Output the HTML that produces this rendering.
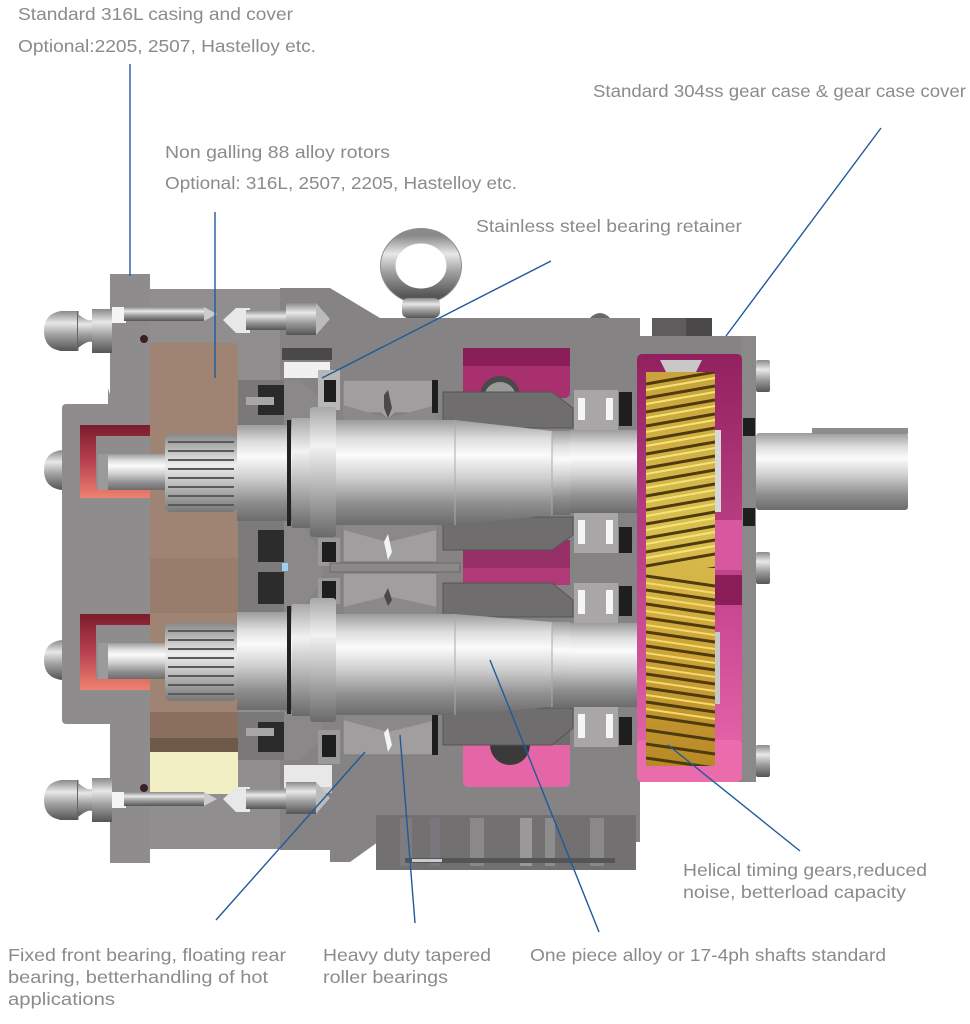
<!DOCTYPE html>
<html>
<head>
<meta charset="utf-8">
<style>
html,body{margin:0;padding:0;background:#fff;}
svg{display:block;}
text{font-family:"Liberation Sans",sans-serif;fill:#8c8a8a;}
</style>
</head>
<body>
<svg width="970" height="1024" viewBox="0 0 970 1024" xmlns="http://www.w3.org/2000/svg">
<defs>
  <linearGradient id="sh" x1="0" y1="0" x2="0" y2="1">
    <stop offset="0" stop-color="#9c9c9c"/>
    <stop offset="0.18" stop-color="#dedede"/>
    <stop offset="0.33" stop-color="#fbfbfb"/>
    <stop offset="0.55" stop-color="#cfcfcf"/>
    <stop offset="0.8" stop-color="#8e8e8e"/>
    <stop offset="1" stop-color="#6c6c6c"/>
  </linearGradient>
  <linearGradient id="sh2" x1="0" y1="0" x2="0" y2="1">
    <stop offset="0" stop-color="#a8a8a8"/>
    <stop offset="0.3" stop-color="#f2f2f2"/>
    <stop offset="0.6" stop-color="#b8b8b8"/>
    <stop offset="1" stop-color="#6a6a6a"/>
  </linearGradient>
  <linearGradient id="pk" x1="0" y1="0" x2="0" y2="1">
    <stop offset="0" stop-color="#92205f"/>
    <stop offset="0.35" stop-color="#b23a7d"/>
    <stop offset="0.65" stop-color="#cc4c95"/>
    <stop offset="1" stop-color="#e86aab"/>
  </linearGradient>
  <linearGradient id="gd" x1="0" y1="0" x2="0" y2="1">
    <stop offset="0" stop-color="#c9a23a"/>
    <stop offset="0.4" stop-color="#d8c050"/>
    <stop offset="0.6" stop-color="#d4ac40"/>
    <stop offset="1" stop-color="#b88a26"/>
  </linearGradient>
  <linearGradient id="red1" x1="0" y1="0" x2="0" y2="1">
    <stop offset="0" stop-color="#7a1c2c"/>
    <stop offset="0.5" stop-color="#b84050"/>
    <stop offset="1" stop-color="#ee8270"/>
  </linearGradient>
  <linearGradient id="nut" x1="0" y1="0" x2="0" y2="1">
    <stop offset="0" stop-color="#8a8a8a"/>
    <stop offset="0.3" stop-color="#e8e8e8"/>
    <stop offset="0.6" stop-color="#a0a0a0"/>
    <stop offset="1" stop-color="#555"/>
  </linearGradient>
  <linearGradient id="spl" x1="0" y1="0" x2="0" y2="1">
    <stop offset="0" stop-color="#888"/>
    <stop offset="0.4" stop-color="#eee"/>
    <stop offset="1" stop-color="#777"/>
  </linearGradient>
  <clipPath id="g1"><rect x="646" y="372" width="69" height="196"/></clipPath>
  <clipPath id="g2"><rect x="646" y="568" width="69" height="198"/></clipPath>
</defs>

<!-- ============ CASING BASE ============ -->
<rect x="62" y="404" width="52" height="320" rx="4" fill="#8e8c8c"/>
<path d="M108,388 Q112,404 120,404 L108,404 Z" fill="#8e8c8c"/>
<rect x="110" y="274" width="40" height="589" fill="#8e8c8c"/>
<rect x="150" y="289" width="132" height="560" fill="#908e8e"/>
<path d="M280,288 L330,288 L380,318 L640,318 L640,336 L742,336 L742,782 L640,782 L640,842 L378,842 L350,862 L330,862 L330,850 L280,850 Z" fill="#858383"/>
<!-- foot -->
<rect x="376" y="815" width="260" height="55" fill="#727070"/>
<rect x="400" y="818" width="12" height="48" fill="#7e7c80"/>
<rect x="430" y="818" width="10" height="48" fill="#7a7680"/>
<rect x="470" y="818" width="14" height="48" fill="#8a8888"/>
<rect x="520" y="818" width="12" height="48" fill="#9a9898"/>
<rect x="545" y="818" width="10" height="48" fill="#8e8c8c"/>
<rect x="590" y="818" width="14" height="48" fill="#8a8888"/>
<rect x="405" y="858" width="210" height="5" fill="#555"/>
<rect x="412" y="859" width="30" height="3" fill="#ccc"/>

<!-- white cavity near flange -->
<rect x="282" y="348" width="50" height="12" fill="#4a4848"/>
<rect x="284" y="362" width="46" height="16" fill="#f0f0f0"/>
<rect x="284" y="765" width="48" height="22" fill="#e8e8e8"/>
<rect x="284" y="787" width="48" height="6" fill="#c8c8c8"/>

<!-- ============ ROTOR (brown) ============ -->
<rect x="150" y="343" width="88" height="395" fill="#9f8373"/>
<rect x="150" y="558" width="88" height="55" fill="#987c6c"/>
<rect x="150" y="712" width="88" height="26" fill="#8a6e5e"/>
<rect x="150" y="738" width="88" height="14" fill="#6e584a"/>
<rect x="150" y="752" width="88" height="42" fill="#f1efc3"/>
<circle cx="144" cy="339" r="4" fill="#3a2020"/>
<circle cx="144" cy="788" r="4" fill="#3a2020"/>

<!-- ============ RED SEALS ============ -->
<path d="M80,425 L150,425 L150,436 L96,436 L96,487 L150,487 L150,498 L80,498 Z" fill="url(#red1)"/>
<path d="M80,614 L150,614 L150,625 L96,625 L96,678 L150,678 L150,690 L80,690 Z" fill="url(#red1)"/>
<rect x="96" y="436" width="54" height="51" fill="#8e8c8c"/>
<rect x="96" y="625" width="54" height="53" fill="#8e8c8c"/>
<rect x="98" y="454" width="70" height="36" fill="url(#sh)"/>
<rect x="98" y="454" width="10" height="36" fill="#9a9a9a"/>
<rect x="98" y="643" width="70" height="36" fill="url(#sh)"/>
<rect x="98" y="643" width="10" height="36" fill="#9a9a9a"/>
<g>
  <rect x="165" y="434" width="72" height="78" fill="url(#spl)" rx="6"/>
  <g stroke="#5a5a5a" stroke-width="2">
    <line x1="168" y1="442" x2="234" y2="442"/><line x1="168" y1="451" x2="234" y2="451"/>
    <line x1="168" y1="460" x2="234" y2="460"/><line x1="168" y1="469" x2="234" y2="469"/>
    <line x1="168" y1="478" x2="234" y2="478"/><line x1="168" y1="487" x2="234" y2="487"/>
    <line x1="168" y1="496" x2="234" y2="496"/><line x1="168" y1="505" x2="234" y2="505"/>
  </g>
  <rect x="165" y="623" width="72" height="78" fill="url(#spl)" rx="6"/>
  <g stroke="#5a5a5a" stroke-width="2">
    <line x1="168" y1="631" x2="234" y2="631"/><line x1="168" y1="640" x2="234" y2="640"/>
    <line x1="168" y1="649" x2="234" y2="649"/><line x1="168" y1="658" x2="234" y2="658"/>
    <line x1="168" y1="667" x2="234" y2="667"/><line x1="168" y1="676" x2="234" y2="676"/>
    <line x1="168" y1="685" x2="234" y2="685"/><line x1="168" y1="694" x2="234" y2="694"/>
  </g>
</g>

<!-- ============ SEAL / RETAINER AREA ============ -->
<rect x="238" y="380" width="50" height="46" fill="#7a7878"/>
<rect x="258" y="385" width="30" height="30" fill="#2a2a2a"/>
<rect x="246" y="397" width="28" height="8" fill="#a8a6a6"/>
<path d="M284,380 L300,380 L322,400 L322,425 L284,425 Z" fill="#8a8888"/>
<rect x="238" y="520" width="52" height="92" fill="#7c7a7a"/>
<rect x="258" y="530" width="32" height="32" fill="#2c2c2c"/>
<rect x="258" y="572" width="32" height="32" fill="#2c2c2c"/>
<path d="M284,520 L300,520 L322,555 L322,580 L300,612 L284,612 Z" fill="#8a8888"/>
<rect x="282" y="563" width="6" height="8" fill="#9cd2f0"/>
<rect x="238" y="712" width="50" height="48" fill="#7a7878"/>
<rect x="258" y="722" width="30" height="30" fill="#2a2a2a"/>
<rect x="246" y="728" width="28" height="8" fill="#a8a6a6"/>
<path d="M284,712 L322,712 L322,738 L300,760 L284,760 Z" fill="#8a8888"/>
<rect x="318" y="370" width="22" height="40" fill="#b8b6b6"/>
<rect x="324" y="380" width="12" height="22" fill="#1e1e1e"/>
<rect x="318" y="538" width="22" height="28" fill="#9a9898"/>
<rect x="322" y="542" width="14" height="20" fill="#1e1e1e"/>
<rect x="318" y="578" width="22" height="26" fill="#9a9898"/>
<rect x="322" y="581" width="14" height="20" fill="#1e1e1e"/>
<rect x="318" y="730" width="22" height="34" fill="#9a9898"/>
<rect x="322" y="735" width="14" height="22" fill="#1e1e1e"/>

<!-- ============ PINK HOUSING CAVITIES ============ -->
<rect x="463" y="348" width="107" height="50" rx="5" fill="#a8306e"/>
<rect x="463" y="348" width="107" height="18" fill="#8a1e58"/>
<circle cx="500" cy="396" r="20" fill="#4a4a4a"/>
<circle cx="500" cy="398" r="16" fill="#9a9a9a"/>
<rect x="463" y="540" width="107" height="45" fill="#b03a78"/>
<rect x="463" y="540" width="107" height="28" fill="#983068"/>
<rect x="463" y="740" width="107" height="47" rx="5" fill="#e566a6"/>
<circle cx="510" cy="745" r="20" fill="#3a3a3a"/>
<rect x="470" y="720" width="100" height="25" fill="#6e6c6c"/>

<!-- ============ TAPERED BEARINGS ============ -->
<g fill="#a09e9e" stroke="#7a7878" stroke-width="1">
  <path d="M343,380 L437,380 L437,413 L395,413 L388,420 L381,413 L343,413 Z"/>
  <path d="M343,525 L437,525 L437,562 L343,562 Z"/>
  <path d="M343,573 L437,573 L437,612 L343,612 Z"/>
  <path d="M343,715 L437,715 L437,755 L343,755 Z"/>
</g>
<g fill="#8a8888">
  <path d="M343,405 L388,418 L437,405 L437,420 L343,420 Z"/>
  <path d="M343,530 L388,542 L437,530 L437,525 L343,525 Z"/>
  <path d="M343,607 L388,596 L437,607 L437,614 L343,614 Z"/>
  <path d="M343,720 L388,732 L437,720 L437,715 L343,715 Z"/>
</g>
<g fill="#f4f4f4">
  <path d="M384,395 L388,390 L392,408 L388,418 L384,408 Z" fill="#4a4848"/>
  <path d="M384,542 L388,534 L392,552 L388,560 Z"/>
  <path d="M384,596 L388,588 L392,600 L388,606 Z" fill="#4a4848"/>
  <path d="M384,733 L388,728 L392,745 L388,752 Z"/>
</g>
<rect x="330" y="563" width="130" height="9" fill="#8a8888" stroke="#6a6868" stroke-width="1"/>
<rect x="432" y="380" width="6" height="33" fill="#1e1e1e"/>
<rect x="432" y="715" width="6" height="40" fill="#1e1e1e"/>

<!-- ============ SLEEVES ============ -->
<g fill="#6f6d6d" stroke="#555" stroke-width="1">
  <path d="M443,392 L552,392 L573,408 L573,428 L443,428 Z"/>
  <path d="M443,517 L573,517 L573,535 L552,550 L443,550 Z"/>
  <path d="M443,583 L552,583 L573,600 L573,617 L443,617 Z"/>
  <path d="M443,708 L573,708 L573,728 L552,745 L443,745 Z"/>
</g>

<!-- ============ SHAFTS ============ -->
<rect x="237" y="425" width="55" height="96" fill="url(#sh)"/>
<rect x="287" y="420" width="4" height="106" fill="#222"/>
<rect x="292" y="418" width="18" height="110" fill="url(#sh2)"/>
<rect x="310" y="407" width="26" height="130" fill="url(#sh2)" rx="3"/>
<rect x="336" y="420" width="120" height="105" fill="url(#sh)"/>
<path d="M455,420 L552,431 L552,515 L455,525 Z" fill="url(#sh)"/>
<rect x="552" y="431" width="18" height="84" fill="url(#sh)"/>
<rect x="570" y="430" width="78" height="83" fill="url(#sh)"/>
<line x1="455" y1="420" x2="455" y2="525" stroke="#aaa"/>
<line x1="552" y1="431" x2="552" y2="515" stroke="#aaa"/>
<rect x="237" y="612" width="55" height="98" fill="url(#sh)"/>
<rect x="287" y="606" width="4" height="108" fill="#222"/>
<rect x="292" y="604" width="18" height="112" fill="url(#sh2)"/>
<rect x="310" y="598" width="26" height="124" fill="url(#sh2)" rx="3"/>
<rect x="336" y="614" width="120" height="101" fill="url(#sh)"/>
<path d="M455,614 L552,622 L552,707 L455,715 Z" fill="url(#sh)"/>
<rect x="552" y="622" width="18" height="85" fill="url(#sh)"/>
<rect x="570" y="623" width="78" height="84" fill="url(#sh)"/>
<line x1="455" y1="614" x2="455" y2="715" stroke="#aaa"/>
<line x1="552" y1="622" x2="552" y2="707" stroke="#aaa"/>

<!-- ============ BALL BEARINGS ============ -->
<g>
  <rect x="574" y="390" width="44" height="40" fill="#a8a6a6"/>
  <rect x="574" y="513" width="44" height="40" fill="#a8a6a6"/>
  <rect x="574" y="583" width="44" height="40" fill="#a8a6a6"/>
  <rect x="574" y="707" width="44" height="40" fill="#a8a6a6"/>
  <g fill="#f6f6f6">
    <rect x="578" y="398" width="7" height="22"/><rect x="606" y="398" width="7" height="22"/>
    <rect x="578" y="520" width="7" height="24"/><rect x="606" y="520" width="7" height="24"/>
    <rect x="578" y="590" width="7" height="24"/><rect x="606" y="590" width="7" height="24"/>
    <rect x="578" y="714" width="7" height="24"/><rect x="606" y="714" width="7" height="24"/>
  </g>
  <g fill="#1e1e1e">
    <rect x="619" y="392" width="13" height="34"/>
    <rect x="619" y="527" width="13" height="26"/>
    <rect x="619" y="586" width="13" height="30"/>
    <rect x="619" y="717" width="13" height="28"/>
  </g>
</g>

<!-- ============ GEAR CASE ============ -->
<rect x="637" y="354" width="105" height="428" rx="5" fill="url(#pk)"/>
<rect x="715" y="520" width="27" height="50" fill="#d858a0"/>
<rect x="715" y="575" width="27" height="30" fill="#8a1e58"/>
<rect x="637" y="740" width="105" height="42" rx="5" fill="#ea6cad"/>
<path d="M660,360 L702,360 L696,372 L666,372 Z" fill="#c8c8c8"/>
<rect x="646" y="372" width="69" height="394" fill="url(#gd)"/>
<g clip-path="url(#g1)">
  <g stroke="#4e3a0c" stroke-width="3">
    <line x1="646" y1="384" x2="715" y2="372"/><line x1="646" y1="398" x2="715" y2="386"/>
    <line x1="646" y1="412" x2="715" y2="400"/><line x1="646" y1="426" x2="715" y2="414"/>
    <line x1="646" y1="440" x2="715" y2="428"/><line x1="646" y1="454" x2="715" y2="442"/>
    <line x1="646" y1="468" x2="715" y2="456"/><line x1="646" y1="482" x2="715" y2="470"/>
    <line x1="646" y1="496" x2="715" y2="484"/><line x1="646" y1="510" x2="715" y2="498"/>
    <line x1="646" y1="524" x2="715" y2="512"/><line x1="646" y1="538" x2="715" y2="526"/>
    <line x1="646" y1="552" x2="715" y2="540"/><line x1="646" y1="566" x2="715" y2="554"/>
    <line x1="646" y1="580" x2="715" y2="568"/>
  </g>
  <g stroke="#f4e476" stroke-width="2">
    <line x1="646" y1="390" x2="715" y2="378"/><line x1="646" y1="404" x2="715" y2="392"/>
    <line x1="646" y1="418" x2="715" y2="406"/><line x1="646" y1="432" x2="715" y2="420"/>
    <line x1="646" y1="446" x2="715" y2="434"/><line x1="646" y1="460" x2="715" y2="448"/>
    <line x1="646" y1="474" x2="715" y2="462"/><line x1="646" y1="488" x2="715" y2="476"/>
    <line x1="646" y1="502" x2="715" y2="490"/><line x1="646" y1="516" x2="715" y2="504"/>
    <line x1="646" y1="530" x2="715" y2="518"/><line x1="646" y1="544" x2="715" y2="532"/>
    <line x1="646" y1="558" x2="715" y2="546"/>
  </g>
</g>
<g clip-path="url(#g2)">
  <g stroke="#4e3a0c" stroke-width="3">
    <line x1="646" y1="576" x2="715" y2="586"/><line x1="646" y1="590" x2="715" y2="600"/>
    <line x1="646" y1="604" x2="715" y2="614"/><line x1="646" y1="618" x2="715" y2="628"/>
    <line x1="646" y1="632" x2="715" y2="642"/><line x1="646" y1="646" x2="715" y2="656"/>
    <line x1="646" y1="660" x2="715" y2="670"/><line x1="646" y1="674" x2="715" y2="684"/>
    <line x1="646" y1="688" x2="715" y2="698"/><line x1="646" y1="702" x2="715" y2="712"/>
    <line x1="646" y1="716" x2="715" y2="726"/><line x1="646" y1="730" x2="715" y2="740"/>
    <line x1="646" y1="744" x2="715" y2="754"/><line x1="646" y1="758" x2="715" y2="768"/>
  </g>
  <g stroke="#f0dc6a" stroke-width="2">
    <line x1="646" y1="583" x2="715" y2="593"/><line x1="646" y1="597" x2="715" y2="607"/>
    <line x1="646" y1="611" x2="715" y2="621"/><line x1="646" y1="625" x2="715" y2="635"/>
    <line x1="646" y1="639" x2="715" y2="649"/><line x1="646" y1="653" x2="715" y2="663"/>
    <line x1="646" y1="667" x2="715" y2="677"/><line x1="646" y1="681" x2="715" y2="691"/>
    <line x1="646" y1="695" x2="715" y2="705"/><line x1="646" y1="709" x2="715" y2="719"/>
  </g>
</g>
<rect x="715" y="430" width="6" height="82" fill="#d8d8d8"/>
<rect x="715" y="632" width="5" height="72" fill="#c8c8c8"/>

<rect x="742" y="336" width="14" height="446" fill="#8a8888"/>
<rect x="743" y="418" width="12" height="18" fill="#1e1e1e"/>
<rect x="743" y="508" width="12" height="18" fill="#1e1e1e"/>
<g fill="url(#nut)">
  <rect x="756" y="360" width="14" height="32" rx="2"/>
  <rect x="756" y="552" width="14" height="32" rx="2"/>
  <rect x="756" y="745" width="14" height="32" rx="2"/>
</g>
<rect x="652" y="318" width="34" height="18" fill="#5e5c5c"/>
<rect x="686" y="318" width="26" height="18" fill="#4a4848"/>
<path d="M590,318 Q600,308 610,318 Z" fill="#6a6868"/>

<rect x="756" y="433" width="152" height="77" rx="3" fill="url(#sh)"/>
<rect x="812" y="428" width="96" height="6" fill="#8e8c8c"/>

<!-- ============ EYE BOLT ============ -->
<ellipse cx="421" cy="266" rx="33" ry="30" fill="none" stroke="url(#nut)" stroke-width="15"/>
<ellipse cx="421" cy="266" rx="40.5" ry="37.5" fill="none" stroke="#8e8e8e" stroke-width="1"/>
<rect x="402" y="298" width="38" height="20" rx="6" fill="url(#nut)"/>

<!-- ============ BOLTS ============ -->
<g>
  <path d="M62,311 Q44,313 44,331 Q44,349 62,351 Z" fill="url(#nut)"/>
  <rect x="60" y="311" width="18" height="40" fill="url(#nut)"/>
  <rect x="77" y="311" width="1.5" height="40" fill="#666"/>
  <path d="M78,314 Q88,322 92,320 L92,342 Q88,340 78,348 Z" fill="url(#nut)"/>
  <rect x="92" y="309" width="20" height="44" fill="url(#nut)"/>
  <rect x="112" y="307" width="14" height="16" fill="#f4f4f4"/>
  <rect x="124" y="307" width="80" height="14" fill="url(#nut)"/>
  <path d="M204,307 L217,314 L204,321 Z" fill="#ccc"/>
  <path d="M223,320 L236,308 L250,308 L250,333 L236,333 Z" fill="#e8e8e8"/>
  <rect x="246" y="310" width="40" height="20" fill="url(#nut)"/>
  <rect x="286" y="303" width="30" height="32" fill="url(#nut)"/>
  <path d="M316,303 L330,319 L316,335 Z" fill="#bbb"/>
</g>
<g>
  <path d="M62,780 Q44,782 44,800 Q44,818 62,820 Z" fill="url(#nut)"/>
  <rect x="60" y="780" width="18" height="40" fill="url(#nut)"/>
  <rect x="77" y="780" width="1.5" height="40" fill="#666"/>
  <path d="M78,783 Q88,791 92,789 L92,811 Q88,809 78,817 Z" fill="url(#nut)"/>
  <rect x="92" y="778" width="20" height="44" fill="url(#nut)"/>
  <rect x="112" y="792" width="14" height="16" fill="#f4f4f4"/>
  <rect x="124" y="792" width="80" height="14" fill="url(#nut)"/>
  <path d="M204,792 L217,799 L204,806 Z" fill="#ccc"/>
  <path d="M223,799 L236,787 L250,787 L250,812 L236,812 Z" fill="#e8e8e8"/>
  <rect x="246" y="789" width="40" height="20" fill="url(#nut)"/>
  <rect x="286" y="782" width="30" height="32" fill="url(#nut)"/>
  <path d="M316,782 L330,798 L316,814 Z" fill="#bbb"/>
</g>
<path d="M62,450 Q44,452 44,470 Q44,488 62,490 Z" fill="url(#nut)"/>
<path d="M62,640 Q44,642 44,660 Q44,678 62,680 Z" fill="url(#nut)"/>

<!-- ============ LEADER LINES ============ -->
<g stroke="#1e5a9c" stroke-width="1.4" fill="none">
  <line x1="130" y1="64" x2="130" y2="276"/>
  <line x1="215" y1="212" x2="215" y2="378"/>
  <line x1="551" y1="261" x2="322" y2="378"/>
  <line x1="881" y1="128" x2="726" y2="336"/>
  <line x1="668" y1="745" x2="800" y2="851"/>
  <line x1="216" y1="920" x2="365" y2="752"/>
  <line x1="415" y1="923" x2="400" y2="735"/>
  <line x1="599" y1="932" x2="490" y2="660"/>
</g>

<!-- ============ LABELS ============ -->
<g font-size="17.5">
  <text x="18" y="20" textLength="275" lengthAdjust="spacingAndGlyphs">Standard 316L casing and cover</text>
  <text x="18" y="52" textLength="298" lengthAdjust="spacingAndGlyphs">Optional:2205, 2507, Hastelloy etc.</text>
  <text x="165" y="158" textLength="225" lengthAdjust="spacingAndGlyphs">Non galling 88 alloy rotors</text>
  <text x="165" y="189" textLength="352" lengthAdjust="spacingAndGlyphs">Optional: 316L, 2507, 2205, Hastelloy etc.</text>
  <text x="476" y="232" textLength="266" lengthAdjust="spacingAndGlyphs">Stainless steel bearing retainer</text>
  <text x="593" y="97" textLength="373" lengthAdjust="spacingAndGlyphs">Standard 304ss gear case &amp; gear case cover</text>
  <text x="683" y="876" textLength="244" lengthAdjust="spacingAndGlyphs">Helical timing gears,reduced</text>
  <text x="683" y="898" textLength="223" lengthAdjust="spacingAndGlyphs">noise, betterload capacity</text>
  <text x="8" y="961" textLength="278" lengthAdjust="spacingAndGlyphs">Fixed front bearing, floating rear</text>
  <text x="8" y="983" textLength="260" lengthAdjust="spacingAndGlyphs">bearing, betterhandling of hot</text>
  <text x="8" y="1005" textLength="107" lengthAdjust="spacingAndGlyphs">applications</text>
  <text x="323" y="961" textLength="168" lengthAdjust="spacingAndGlyphs">Heavy duty tapered</text>
  <text x="323" y="983" textLength="125" lengthAdjust="spacingAndGlyphs">roller bearings</text>
  <text x="530" y="961" textLength="356" lengthAdjust="spacingAndGlyphs">One piece alloy or 17-4ph shafts standard</text>
</g>
</svg>
</body>
</html>
